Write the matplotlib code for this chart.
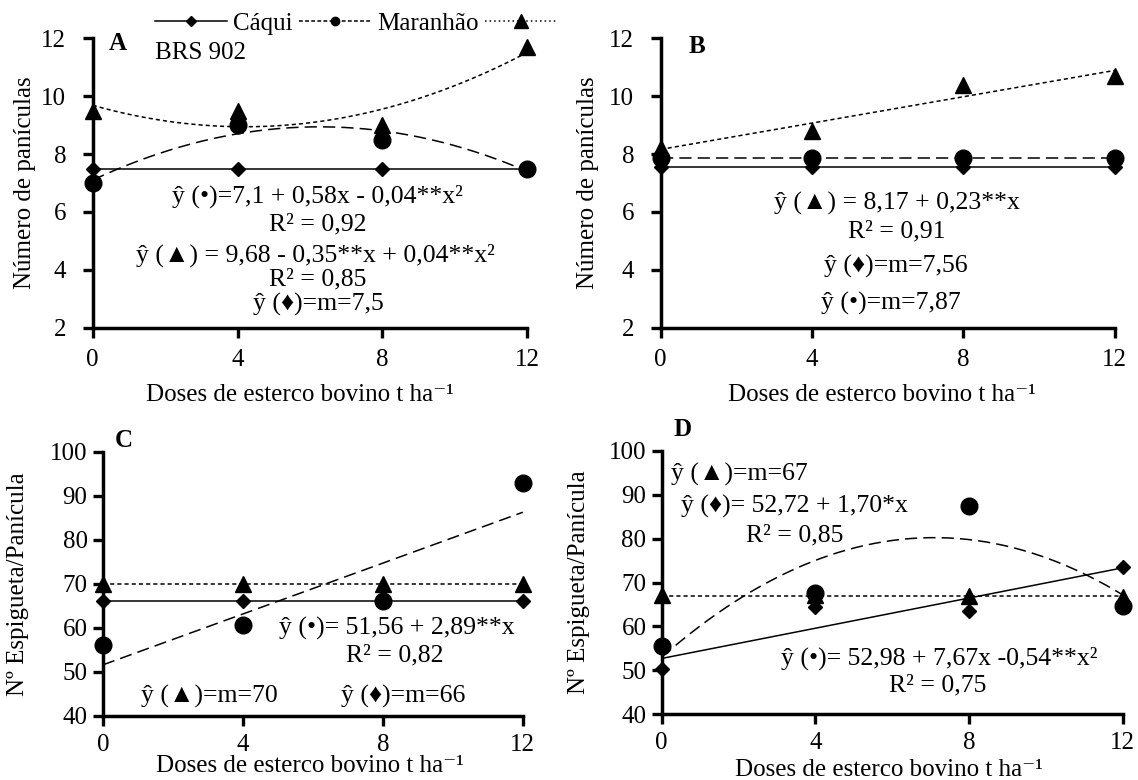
import numpy as np
import matplotlib
matplotlib.use('Agg')
import matplotlib.pyplot as plt
from matplotlib.lines import Line2D

plt.rcParams['font.family'] = ['Liberation Serif', 'DejaVu Serif', 'DejaVu Sans']
plt.rcParams['font.size'] = 18

doses = [0, 4, 8, 12]

# A / B: numero de paniculas ; C / D: espiguetas por panicula
a_caqui = [7.5, 7.5, 7.5, 7.5]
a_maranhao = [7.0, 9.0, 8.5, 7.5]
a_brs = [9.5, 9.5, 9.0, 11.7]

b_caqui = [7.56, 7.56, 7.56, 7.56]
b_maranhao = [7.87, 7.87, 7.87, 7.87]
b_brs = [8.2, 8.8, 10.4, 10.7]

c_caqui = [66, 66, 66, 66]
c_maranhao = [56.2, 60.6, 66.0, 92.9]
c_brs = [70, 70, 70, 70]

d_caqui = [50.4, 64.5, 63.6, 73.6]
d_maranhao = [55.5, 67.5, 87.3, 64.7]
d_brs = [67.1, 67.1, 67.0, 66.8]

# degree of the fitted trend (caqui, maranhao, brs)
deg_a = (0, 2, 2)
deg_b = (0, 0, 1)
deg_c = (0, 1, 0)
deg_d = (1, 2, 0)

xlab = 'Doses de esterco bovino t ha⁻¹'

fig = plt.figure(figsize=(11.38, 7.80), dpi=100)
axA = fig.add_axes([0.0815, 0.5799, 0.3819, 0.371])
axB = fig.add_axes([0.5805, 0.5799, 0.3990, 0.371])
axC = fig.add_axes([0.0904, 0.0821, 0.3690, 0.3388])
axD = fig.add_axes([0.5815, 0.0842, 0.4049, 0.3380])

mk = [dict(marker='D', ms=7.2), dict(marker='o', ms=12), dict(marker='^', ms=12)]
ls = [dict(ls='-'), dict(dashes=(8, 4)), dict(dashes=(2.7, 2))]


def draw(ax, series, degs):
    xx = np.linspace(0, 12, 200)
    for vals, d, l in zip(series, degs, ls):
        coef = np.polyfit(doses, vals, d)
        ax.plot(xx, np.polyval(coef, xx), color='k', lw=1.1, zorder=3, **l)
    for vals, m in zip(series, mk):
        ax.plot(doses, vals, ls='none', color='k', clip_on=False, zorder=6, **m)
    ax.set_xlim(0, 12)
    ax.set_xticks(doses)
    for s in ['top', 'right']:
        ax.spines[s].set_visible(False)
    for s in ['left', 'bottom']:
        ax.spines[s].set_linewidth(2.5)
    ax.tick_params(direction='out', length=7, width=2.4, labelsize=18)


draw(axA, [a_caqui, a_maranhao, a_brs], deg_a)
draw(axB, [b_caqui, b_maranhao, b_brs], deg_b)
draw(axC, [c_caqui, c_maranhao, c_brs], deg_c)
draw(axD, [d_caqui, d_maranhao, d_brs], deg_d)

for ax in (axA, axB):
    ax.set_ylim(2, 12)
    ax.set_yticks(range(2, 13, 2))
    ax.tick_params(axis='y', pad=12)
    ax.tick_params(axis='x', pad=8)
    ax.set_ylabel('Número de panículas', va='center')
    ax.set_xlabel(xlab, va='center')
for ax in (axC, axD):
    ax.set_ylim(40, 100)
    ax.set_yticks(range(40, 101, 10))
    ax.tick_params(axis='y', pad=4)
    ax.tick_params(axis='x', pad=6)
    ax.set_ylabel('Nº Espigueta/Panícula', va='center')
    ax.set_xlabel(xlab, va='center')

axA.yaxis.set_label_coords(-0.155, 0.5)
axB.yaxis.set_label_coords(-0.16, 0.5)
axC.yaxis.set_label_coords(-0.202, 0.5)
axD.yaxis.set_label_coords(-0.18, 0.5)
axA.xaxis.set_label_coords(0.476, -0.2326)
axB.xaxis.set_label_coords(0.488, -0.2326)
axC.xaxis.set_label_coords(0.493, -0.19)
axD.xaxis.set_label_coords(0.493, -0.212)

# panel letters
axA.text(0.058, 0.983, 'A', transform=axA.transAxes, fontweight='bold', ha='center', va='center')
axB.text(0.08, 0.971, 'B', transform=axB.transAxes, fontweight='bold', ha='center', va='center')
axC.text(0.049, 1.044, 'C', transform=axC.transAxes, fontweight='bold', ha='center', va='center')
axD.text(0.045, 1.079, 'D', transform=axD.transAxes, fontweight='bold', ha='center', va='center')

# equations
kw = dict(ha='center', va='center', fontsize=18.5)
axA.text(6.2, 6.53, 'ŷ (•)=7,1 + 0,58x - 0,04**x²', **kw)
axA.text(6.2, 5.58, 'R² = 0,92', **kw)
axA.text(6.15, 4.51, 'ŷ (▲) = 9,68 - 0,35**x + 0,04**x²', **kw)
axA.text(6.2, 3.65, 'R² = 0,85', **kw)
axA.text(6.23, 2.79, 'ŷ (♦)=m=7,5', **kw)

axB.text(6.25, 6.30, 'ŷ (▲) = 8,17 + 0,23**x', **kw)
axB.text(6.25, 5.32, 'R² = 0,91', **kw)
axB.text(6.22, 4.11, 'ŷ (♦)=m=7,56', **kw)
axB.text(6.09, 2.84, 'ŷ (•)=m=7,87', **kw)

axC.text(8.40, 59.9, 'ŷ (•)= 51,56 + 2,89**x', **kw)
axC.text(8.33, 53.85, 'R² = 0,82', **kw)
axC.text(3.03, 44.4, 'ŷ (▲)=m=70', **kw)
axC.text(8.59, 44.4, 'ŷ (♦)=m=66', **kw)

lk = dict(ha='left', va='center', fontsize=18.5)
axD.text(0.25, 94.5, 'ŷ (▲)=m=67', **lk)
axD.text(0.49, 87.25, 'ŷ (♦)= 52,72 + 1,70*x', **lk)
axD.text(2.19, 80.7, 'R² = 0,85', **lk)
axD.text(7.24, 52.7, 'ŷ (•)= 52,98 + 7,67x -0,54**x²', **kw)
axD.text(7.19, 46.6, 'R² = 0,75', **kw)

# legend
handles = [
    Line2D([], [], color='k', lw=1.1, ls='-', marker='D', ms=5),
    Line2D([], [], color='k', lw=1.1, dashes=(2.5, 1.5), marker='o', ms=6),
    Line2D([], [], color='k', lw=1.1, dashes=(1, 2), marker='^', ms=10),
]
axA.legend(handles, ['Cáqui', 'Maranhão', ''], ncol=3, loc='upper left',
           bbox_to_anchor=(0.1358, 0.984), bbox_transform=fig.transFigure,
           frameon=False, handlelength=2.9, handletextpad=0.24,
           columnspacing=0.24, borderpad=0, borderaxespad=0, fontsize=18)
fig.text(0.1358, 1 - 53.3 / 780, 'BRS 902', ha='left', va='center', fontsize=18)

fig.savefig('out.png', dpi=100)
